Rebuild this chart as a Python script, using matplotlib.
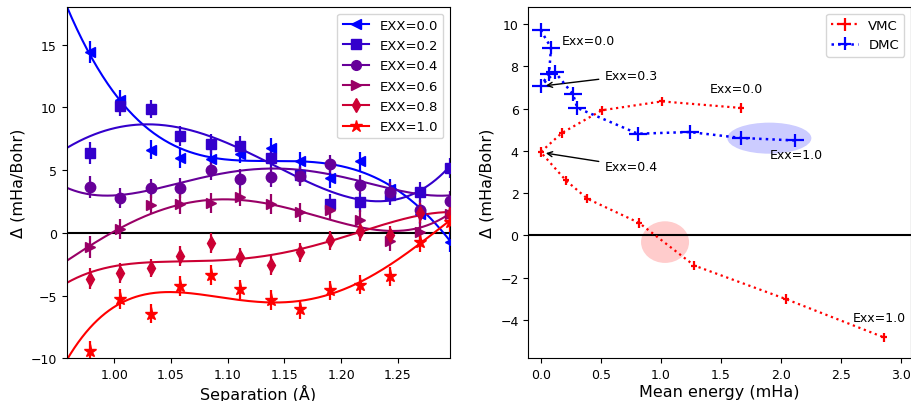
import numpy as np
import matplotlib
matplotlib.use("Agg")
import matplotlib.pyplot as plt
from matplotlib.lines import Line2D
from matplotlib.patches import Ellipse

# ---------------- Left panel data (measured points) ----------------
sep = [0.979, 1.005, 1.032, 1.058, 1.085, 1.111, 1.138, 1.164, 1.190, 1.217, 1.243, 1.270, 1.296]
exx_labels = ["EXX=0.0", "EXX=0.2", "EXX=0.4", "EXX=0.6", "EXX=0.8", "EXX=1.0"]
exx_colors = ["#0000ff", "#3300cc", "#660099", "#990066", "#cc0033", "#ff0000"]
exx_markers = ["<", "s", "o", ">", "d", "*"]

d_exx00 = [14.4, 10.6, 6.63, 5.95, 5.89, 6.29, 6.74, 5.71, 4.35, 5.71, 3.5, 1.5, -0.74]
d_exx02 = [6.35, 10.14, 9.87, 7.75, 7.06, 6.95, 5.95, 4.6, 2.31, 2.44, 3.0, 3.24, 5.17]
d_exx04 = [3.64, 2.75, 3.56, 3.56, 5.02, 4.3, 4.43, 4.5, 5.49, 3.82, 3.29, 1.8, 2.57]
d_exx06 = [-1.14, 0.27, 2.23, 2.31, 2.39, 2.85, 2.31, 1.65, 1.78, 1.06, -0.69, 0.05, 1.5]
d_exx08 = [-3.66, -3.18, -2.81, -1.86, -0.82, -1.94, -2.55, -1.54, -0.61, 0.13, -0.21, 1.6, 1.51]
d_exx10 = [-9.45, -5.31, -6.45, -4.25, -3.34, -4.51, -5.39, -6.1, -4.59, -4.14, -3.45, -0.74, 0.85]
series_left = [d_exx00, d_exx02, d_exx04, d_exx06, d_exx08, d_exx10]

err_left = [0.85, 0.8, 0.75, 0.8, 0.8, 0.75, 0.8, 0.75, 0.75, 0.75, 0.75, 0.8, 0.8]

# fitted curves (values at these separations)
fit_sep = [0.958, 1.00, 1.05, 1.10, 1.15, 1.20, 1.25, 1.296]
fit_exx00 = [17.9, 11.6, 6.8, 5.5, 6.05, 5.6, 2.95, -0.5]
fit_exx02 = [6.87, 8.0, 8.85, 7.0, 5.2, 2.5, 3.1, 5.2]
fit_exx04 = [3.64, 2.85, 3.9, 4.85, 5.05, 4.4, 3.5, 2.95]
fit_exx06 = [-2.2, 0.05, 2.05, 2.8, 2.0, 0.64, 0.32, 1.5]
fit_exx08 = [-3.98, -2.7, -2.25, -2.15, -1.6, -0.4, 1.0, 1.65]
fit_exx10 = [-10.0, -6.3, -4.5, -4.9, -5.8, -4.9, -1.7, 0.85]
fits_left = [fit_exx00, fit_exx02, fit_exx04, fit_exx06, fit_exx08, fit_exx10]

# ---------------- Right panel data ----------------
dmc_energy = [0.0, 0.086, 0.07, 0.0, 0.12, 0.27, 0.305, 0.81, 1.24, 1.67, 2.12]
dmc_delta = [9.71, 8.89, 7.65, 7.07, 7.72, 6.67, 6.03, 4.81, 4.89, 4.61, 4.49]
dmc_xerr = 0.075
dmc_yerr = 0.33

vmc_energy = [1.67, 1.01, 0.51, 0.175, 0.0, 0.21, 0.39, 0.82, 1.28, 2.04, 2.86]
vmc_delta = [6.03, 6.34, 5.92, 4.84, 3.94, 2.6, 1.73, 0.59, -1.43, -3.01, -4.83]
vmc_xerr = 0.025
vmc_yerr = 0.22

# ---------------- Figure ----------------
fig = plt.figure(figsize=(9.12, 4.02), dpi=100)
ax1 = fig.add_axes([0.0731, 0.1062, 0.4203, 0.874])
ax2 = fig.add_axes([0.5793, 0.1062, 0.4196, 0.874])

xfit = np.linspace(0.958, 1.296, 300)
handles = []
for vals, fvals, lab, col, mk in zip(series_left, fits_left, exx_labels, exx_colors, exx_markers):
    ms = 9.5 if mk == "*" else 7.5
    ax1.errorbar(sep, vals, yerr=err_left, fmt=mk, color=col, ms=ms,
                 elinewidth=1.6, capsize=0, zorder=3)
    coef = np.polyfit(fit_sep, fvals, 4)
    ax1.plot(xfit, np.polyval(coef, xfit), color=col, lw=1.5, zorder=2)
    handles.append(Line2D([], [], color=col, marker=mk, ms=ms - 0.5, lw=1.5))

ax1.axhline(0, color="black", lw=1.5, zorder=1)
ax1.set_xlim(0.958, 1.296)
ax1.set_ylim(-10, 18)
ax1.set_xticks([1.00, 1.05, 1.10, 1.15, 1.20, 1.25])
ax1.set_yticks([-10, -5, 0, 5, 10, 15])
ax1.set_xlabel("Separation (Å)", fontsize=11.5, labelpad=2)
ax1.set_ylabel("Δ (mHa/Bohr)", fontsize=11.5)
ax1.tick_params(labelsize=9)
ax1.legend(handles, exx_labels, loc="upper right", fontsize=9.5, labelspacing=0.55)

# right panel
ax2.add_patch(Ellipse((1.905, 4.6), 0.70, 1.47, color=(0.8, 0.8, 1.0), lw=0, zorder=0))
ax2.add_patch(Ellipse((1.036, -0.32), 0.40, 1.97, color=(1.0, 0.8, 0.8), lw=0, zorder=0))
ax2.axhline(0, color="black", lw=1.5, zorder=1)
ax2.errorbar(vmc_energy, vmc_delta, xerr=vmc_xerr, yerr=vmc_yerr, fmt=":",
             color="red", lw=1.6, elinewidth=1.6, label="VMC", zorder=3)
ax2.errorbar(dmc_energy, dmc_delta, xerr=dmc_xerr, yerr=dmc_yerr, fmt=":",
             color="blue", lw=1.8, elinewidth=1.6, label="DMC", zorder=3)

afs = 9
ax2.text(0.175, 9.23, "Exx=0.0", fontsize=afs, va="center", ha="left")
ax2.annotate("Exx=0.3", xy=(0.02, 7.07), xytext=(0.53, 7.57), fontsize=afs,
             va="center", ha="left",
             arrowprops=dict(arrowstyle="->", color="black", lw=1))
ax2.annotate("Exx=0.4", xy=(0.02, 3.91), xytext=(0.53, 3.26), fontsize=afs,
             va="center", ha="left",
             arrowprops=dict(arrowstyle="->", color="black", lw=1))
ax2.text(1.41, 6.94, "Exx=0.0", fontsize=afs, va="center", ha="left")
ax2.text(1.91, 3.81, "Exx=1.0", fontsize=afs, va="center", ha="left")
ax2.text(2.6, -3.91, "Exx=1.0", fontsize=afs, va="center", ha="left")

ax2.set_xlim(-0.103, 3.085)
ax2.set_ylim(-5.82, 10.81)
ax2.set_xticks([0.0, 0.5, 1.0, 1.5, 2.0, 2.5, 3.0])
ax2.set_yticks([-4, -2, 0, 2, 4, 6, 8, 10])
ax2.set_xlabel("Mean energy (mHa)", fontsize=11.5, labelpad=2)
ax2.set_ylabel("Δ (mHa/Bohr)", fontsize=11.5)
ax2.tick_params(labelsize=9)
ax2.legend(loc="upper right", fontsize=9.5)

fig.savefig("out.png", dpi=100)
